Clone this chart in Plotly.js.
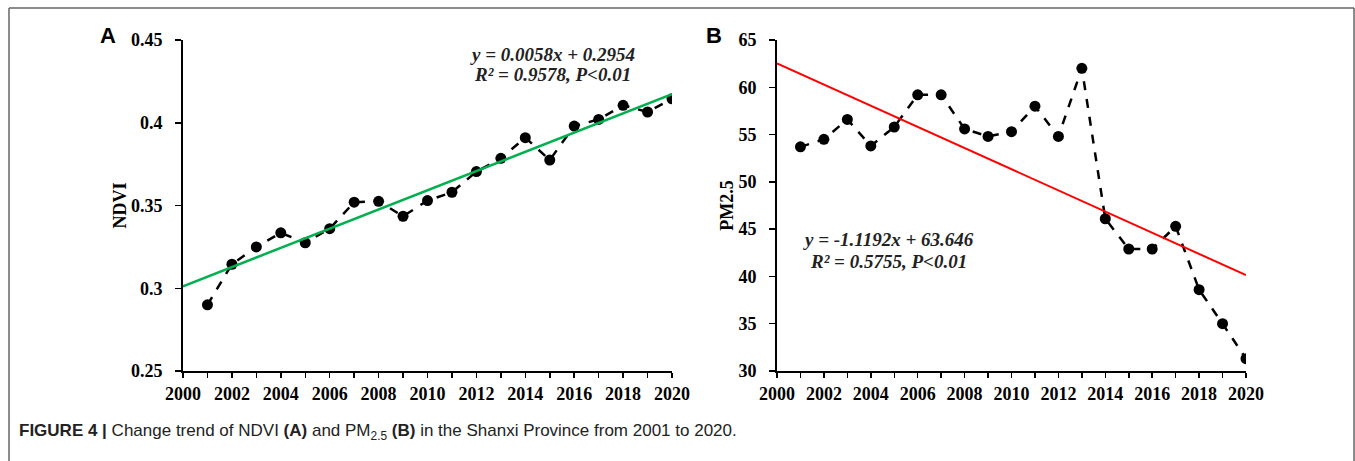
<!DOCTYPE html>
<html>
<head>
<meta charset="utf-8">
<script src="https://cdn.plot.ly/plotly-3.0.1.min.js"></script>
<style>
html,body{margin:0;padding:0;background:#fff;}
#chart{width:1355px;height:461px;}
</style>
</head>
<body>
<div id="chart"></div>
<script>
const years = [2001,2002,2003,2004,2005,2006,2007,2008,2009,2010,2011,2012,2013,2014,2015,2016,2017,2018,2019,2020];
const ndvi = [0.290,0.3145,0.325,0.3335,0.3275,0.336,0.352,0.3525,0.3435,0.353,0.358,0.3705,0.3785,0.391,0.3775,0.398,0.402,0.4105,0.4065,0.4145];
const pm25 = [53.7,54.5,56.6,53.8,55.8,59.2,59.2,55.6,54.8,55.3,58.0,54.8,62.0,46.1,42.9,42.9,45.3,38.6,35.0,31.3];
const trendYears = [2000,2020];
const ndviTrend = [0.3012,0.4172];
const pmTrend = [62.53,40.14];
const xTicks = [2000,2002,2004,2006,2008,2010,2012,2014,2016,2018,2020];
const eqA = ["y = 0.0058x + 0.2954","R² = 0.9578, P<0.01"];
const eqB = ["y = -1.1192x + 63.646","R² = 0.5755, P<0.01"];

const W = 1355, H = 461;
const px = x => x / W;
const py = y => 1 - y / H;

const serif = "Liberation Serif, Times New Roman, serif";
const tickFont = {family: serif, size: 18, color: "#000", weight: "bold"};

function xAxis(domain, anchor){
  return {
    domain: domain, anchor: anchor, range: [2000,2020], tickmode: "array",
    tickvals: xTicks, ticktext: xTicks.map(String),
    minor: {dtick: 1, ticks: "outside", ticklen: 5, tickwidth: 1.5, tickcolor: "#000"},
    ticks: "outside", ticklen: 5, tickwidth: 1.5, tickcolor: "#000",
    showline: true, linecolor: "#000", linewidth: 2, showgrid: false, zeroline: false,
    tickfont: tickFont, automargin: false, fixedrange: true
  };
}
function yAxis(domain, anchor, range, dtick, titleText){
  return {
    domain: domain, anchor: anchor, range: range, dtick: dtick, tick0: range[0],
    ticks: "outside", ticklen: 6, tickwidth: 1.5, tickcolor: "#000", ticklabelstandoff: 9,
    showline: true, linecolor: "#000", linewidth: 2, showgrid: false, zeroline: false,
    tickfont: tickFont, automargin: false, fixedrange: true,
    title: {text: titleText, font: {family: serif, size: 18, color: "#000", weight: "bold"}, standoff: 0}
  };
}

function note(text, x, y, size, family, color, xanchor){
  return {text: text, xref: "paper", yref: "paper", x: px(x), y: py(y), showarrow: false,
          xanchor: xanchor || "center", yanchor: "middle",
          font: {family: family, size: size, color: color}};
}

const sans = "Liberation Sans, Arial, sans-serif";
const yDom = [py(371), py(40)];
const layout = {
  width: W, height: H,
  margin: {l: 0, r: 0, t: 0, b: 0},
  paper_bgcolor: "#fff", plot_bgcolor: "#fff",
  showlegend: false,
  xaxis: xAxis([px(183), px(672)], "y"),
  yaxis: yAxis(yDom, "x", [0.25, 0.45], 0.05, "NDVI"),
  xaxis2: xAxis([px(777), px(1246)], "y2"),
  yaxis2: yAxis(yDom, "x2", [30, 65], 5, "PM2.5"),
  shapes: [
    {type: "line", xref: "paper", yref: "paper", x0: px(9), x1: px(9), y0: 0, y1: py(8), line: {color: "#666", width: 1.5}},
    {type: "line", xref: "paper", yref: "paper", x0: px(9), x1: px(1354), y0: py(8), y1: py(8), line: {color: "#666", width: 1.5}},
    {type: "line", xref: "paper", yref: "paper", x0: px(1354), x1: px(1354), y0: 0, y1: py(8), line: {color: "#666", width: 1.5}}
  ],
  annotations: [
    note("<b>A</b>", 108, 36, 22, sans, "#000"),
    note("<b>B</b>", 714, 36, 22, sans, "#000"),
    note("<b><i>" + eqA[0] + "</i></b>", 552, 55, 19, serif, "#222"),
    note("<b><i>" + eqA[1] + "</i></b>", 552, 74, 19, serif, "#222"),
    note("<b><i>" + eqB[0] + "</i></b>", 888, 240, 19, serif, "#222"),
    note("<b><i>" + eqB[1] + "</i></b>", 888, 261, 19, serif, "#222"),
    note("<b>FIGURE 4 |</b> Change trend of NDVI <b>(A)</b> and PM<sub>2.5</sub> <b>(B)</b> in the Shanxi Province from 2001 to 2020.",
         17, 432, 17, sans, "#222", "left")
  ]
};

const data = [
  {x: years, y: ndvi, xaxis: "x", yaxis: "y", type: "scatter", mode: "lines+markers",
   line: {color: "#000", width: 2.5, dash: "dash"}, marker: {color: "#000", size: 11}},
  {x: trendYears, y: ndviTrend, xaxis: "x", yaxis: "y", type: "scatter", mode: "lines",
   line: {color: "#00B050", width: 2.5}},
  {x: years, y: pm25, xaxis: "x2", yaxis: "y2", type: "scatter", mode: "lines+markers",
   line: {color: "#000", width: 2.5, dash: "dash"}, marker: {color: "#000", size: 11}},
  {x: trendYears, y: pmTrend, xaxis: "x2", yaxis: "y2", type: "scatter", mode: "lines",
   line: {color: "#FF0000", width: 2}}
];

Plotly.newPlot("chart", data, layout, {staticPlot: true, displayModeBar: false});
</script>
</body>
</html>
